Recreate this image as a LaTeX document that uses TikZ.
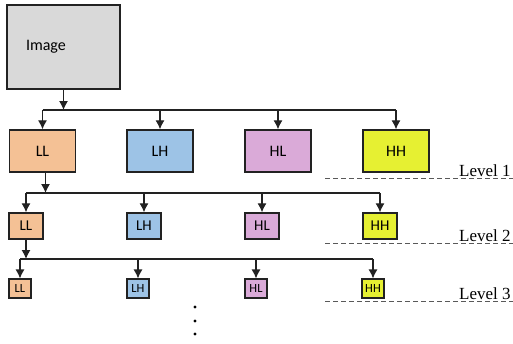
\documentclass[tikz,border=0pt]{standalone}
\usepackage{fontspec}
\setmainfont{Carlito}
\newfontfamily\levelfont{Liberation Serif}
\usetikzlibrary{positioning, arrows.meta}

\definecolor{llcol}{RGB}{244,193,149}
\definecolor{lhcol}{RGB}{157,195,230}
\definecolor{hlcol}{RGB}{218,170,216}
\definecolor{hhcol}{RGB}{230,240,50}
\definecolor{edgecol}{RGB}{34,34,34}

\begin{document}
\begin{tikzpicture}[> = {Latex[length = 9pt, width = 9pt]}, x = 1pt, y = -1pt,
	box/.style = {draw = edgecol, line width = 1.3pt, inner sep = 0pt},
	big/.style = {box, minimum width = 66pt, minimum height = 42pt, font = \fontsize{16}{16}\selectfont},
	mid/.style = {box, minimum width = 34pt, minimum height = 26pt, font = \fontsize{15}{15}\selectfont},
	small/.style = {box, line width = 1.1pt, minimum width = 22pt, minimum height = 19pt, font = \fontsize{12.5}{12.5}\selectfont},
	levelline/.style = {dash pattern = on 5pt off 3pt, gray!70!black, line width = 0.8pt},
	leveltext/.style = {anchor = base west, inner sep = 0pt, font = \levelfont\fontsize{17}{17}\selectfont}]

	\useasboundingbox (0, 0) rectangle (513, 343);

	% The image

	\node [box, fill = gray!30, minimum height = 84pt, text width = 75pt, inner xsep = 19pt,
		align = left, font = \fontsize{16}{16}\selectfont] (img) at (63.5, 47) {Image};

	% Level 1

	\node [big, fill = llcol] (ll1) at (42.5, 151) {LL};
	\node [big, fill = lhcol] (lh1) at (160, 151) {LH};
	\node [big, fill = hlcol] (hl1) at (278, 151) {HL};
	\node [big, fill = hhcol] (hh1) at (396, 151) {HH};

	% Level 2

	\node [mid, fill = llcol] (ll2) at (26, 226) {LL};
	\node [mid, fill = lhcol] (lh2) at (144, 226) {LH};
	\node [mid, fill = hlcol] (hl2) at (262, 226) {HL};
	\node [mid, fill = hhcol] (hh2) at (380, 226) {HH};

	% Level 3

	\node [small, fill = llcol] (ll3) at (20, 288.5) {LL};
	\node [small, fill = lhcol] (lh3) at (138, 288.5) {LH};
	\node [small, fill = hlcol] (hl3) at (256, 288.5) {HL};
	\node [small, fill = hhcol] (hh3) at (373, 288.5) {HH};

	% Buses

	\coordinate (bus1) at (img.south |- 0, 110);
	\coordinate (bus2) at ([xshift = 3pt] ll1.south |- 0, 193);
	\coordinate (bus3) at (ll2.south |- 0, 259);

	\begin{scope}[line width = 1.2pt, draw = edgecol]

		\draw (ll1.north |- bus1) -- (hh1.north |- bus1);
		\draw (ll2.north |- bus2) -- (hh2.north |- bus2);
		\draw (ll3.north |- bus3) -- (hh3.north |- bus3);

		\begin{scope}[->]

			\draw (img.south) -- (bus1);
			\draw ([xshift = 3pt] ll1.south) -- (bus2);
			\draw (ll2.south) -- (bus3);

			\foreach \n in {ll, lh, hl, hh} {
				\draw (\n1.north |- bus1) -- (\n1.north);
				\draw (\n2.north |- bus2) -- (\n2.north);
				\draw (\n3.north |- bus3) -- (\n3.north);
			}

		\end{scope}

	\end{scope}

	% Levels

	\coordinate (lev1) at (325, 178);
	\coordinate (lev2) at (325, 243);
	\coordinate (lev3) at (325, 301);

	\foreach \k in {1, 2, 3} {
		\draw [levelline] (lev\k) -- ++(190, 0);
		\node [leveltext] (levtext\k) at ([xshift = 134pt, yshift = 2pt] lev\k) {Level \k};
	}

	% The dots

	\foreach \y in {307, 321, 334}
		\fill (195, \y) circle (1.7pt);

\end{tikzpicture}
\end{document}
